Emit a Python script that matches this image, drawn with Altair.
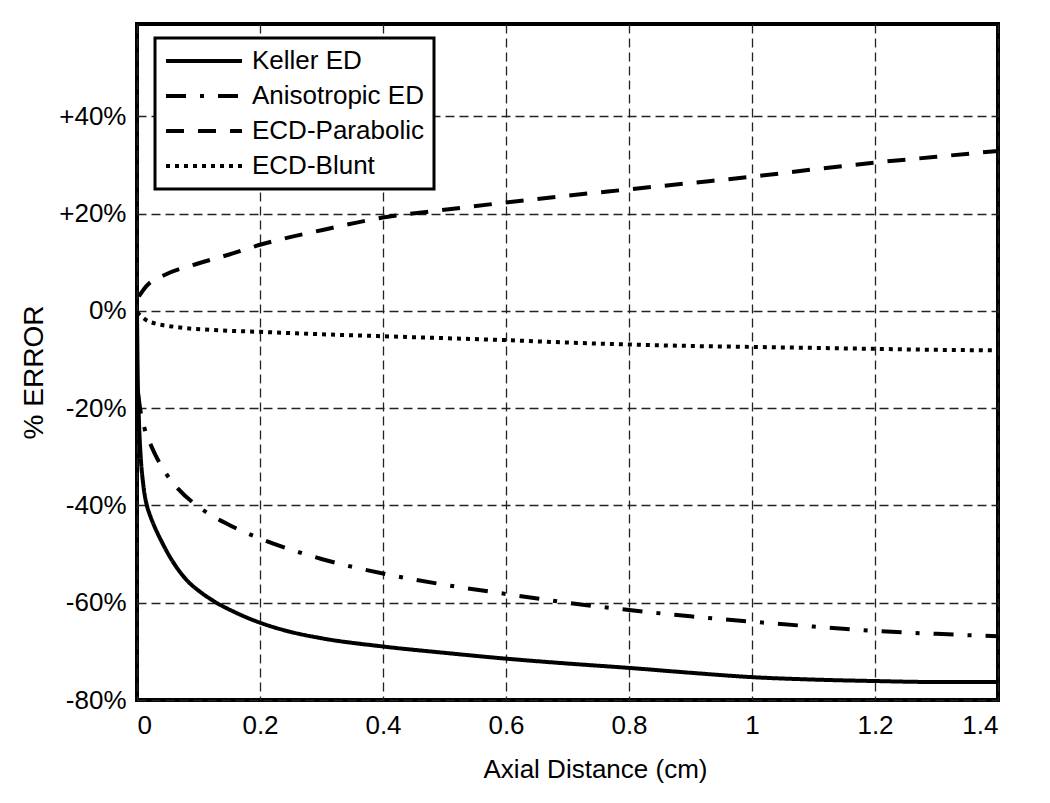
import altair as alt
import pandas as pd

series_names = ["Keller ED", "Anisotropic ED", "ECD-Parabolic", "ECD-Blunt"]

keller_x = [0.0, 0.001, 0.003, 0.006, 0.01, 0.016, 0.02, 0.026, 0.033, 0.04, 0.05, 0.06, 0.07, 0.085, 0.1, 0.124, 0.16, 0.2, 0.25, 0.3, 0.4, 0.5, 0.6, 0.7, 0.8, 0.9, 1.0, 1.1, 1.2, 1.3, 1.4]
keller_y = [0.0, -12, -22, -30, -35.5, -40, -41.6, -43.6, -45.6, -47.4, -49.8, -51.9, -53.7, -55.9, -57.5, -59.6, -62.0, -64.1, -66, -67.3, -69, -70.3, -71.5, -72.5, -73.4, -74.4, -75.3, -75.8, -76.1, -76.3, -76.3]

aniso_x = [0.002, 0.005, 0.012, 0.024, 0.04, 0.067, 0.097, 0.15, 0.2, 0.3, 0.4, 0.5, 0.6, 0.7, 0.8, 0.9, 1.0, 1.1, 1.2, 1.3, 1.4]
aniso_y = [-17, -20, -24, -28, -32, -36.6, -40, -44, -46.8, -51, -54, -56.3, -58.2, -60, -61.5, -62.8, -63.9, -64.9, -65.8, -66.4, -66.9]

parab_x = [0.003, 0.016, 0.043, 0.098, 0.15, 0.2, 0.3, 0.4, 0.5, 0.6, 0.7, 0.8, 0.9, 1.0, 1.1, 1.2, 1.3, 1.4]
parab_y = [3.0, 5.2, 7.3, 9.7, 11.6, 13.6, 16.6, 19.2, 20.8, 22.3, 23.7, 25.0, 26.3, 27.6, 29.1, 30.5, 31.7, 32.9]

blunt_x = [0.0, 0.02, 0.07, 0.12, 0.2, 0.3, 0.4, 0.5, 0.6, 0.7, 0.8, 0.9, 1.0, 1.1, 1.2, 1.3, 1.4]
blunt_y = [-0.3, -2.2, -3.4, -3.9, -4.3, -4.8, -5.2, -5.6, -6.0, -6.5, -6.9, -7.2, -7.4, -7.6, -7.8, -8.0, -8.1]

x_ticks = [0, 0.2, 0.4, 0.6, 0.8, 1, 1.2, 1.4]
y_ticks = [-80, -60, -40, -20, 0, 20, 40]

dash_patterns = [[1, 0], [20, 14, 4, 14], [18, 14], [4, 5]]

rows = []
for name, xs, ys in zip(series_names,
                        [keller_x, aniso_x, parab_x, blunt_x],
                        [keller_y, aniso_y, parab_y, blunt_y]):
    for xv, yv in zip(xs, ys):
        rows.append({"series": name, "x": xv, "y": yv})
df = pd.DataFrame(rows)

FONT = "Liberation Sans"

chart = alt.Chart(df).mark_line(
    interpolate="monotone", strokeWidth=4, color="black"
).encode(
    x=alt.X("x:Q",
            scale=alt.Scale(domain=[0, 1.4], nice=False, zero=False),
            axis=alt.Axis(values=x_ticks, format="~g", title="Axial Distance (cm)",
                          labelFontSize=26, labelPadding=12, titleFontSize=26,
                          titleFontWeight="normal", titlePadding=18, titleX=458)),
    y=alt.Y("y:Q",
            scale=alt.Scale(domain=[-80, 59], nice=False, zero=False),
            axis=alt.Axis(values=y_ticks,
                          labelExpr="datum.value > 0 ? '+' + datum.value + '%' : datum.value + '%'",
                          title="% ERROR", labelFontSize=26, labelPadding=11,
                          titleFontSize=28, titleFontWeight="normal", titlePadding=10,
                          titleY=348)),
    strokeDash=alt.StrokeDash(
        "series:N",
        sort=series_names,
        scale=alt.Scale(domain=series_names, range=dash_patterns),
        legend=alt.Legend(
            title=None, orient="none", legendX=18, legendY=14,
            symbolType="M-4,0H4", symbolSize=361, symbolStrokeWidth=4,
            symbolOffset=26, symbolStrokeColor="black",
            labelFontSize=26, labelFont=FONT,
            labelColor="black", labelOffset=35, labelLimit=400, rowPadding=9,
            padding=10, strokeColor="black", fillColor="white"),
    ),
).properties(
    width=861, height=676,
    autosize="none",
    padding={"left": 129, "top": 16, "right": 44, "bottom": 95},
).configure(
    font=FONT,
).configure_view(
    stroke="black", strokeWidth=4
).configure_axis(
    grid=True, gridColor="#222222", gridDash=[9, 5], gridWidth=1.3,
    domain=False, ticks=False, labelColor="black", titleColor="black",
    labelFont=FONT, titleFont=FONT
).configure_legend(
    strokeWidth=3
)

chart.save("out.html", embed_options={"renderer": "svg", "actions": False})
